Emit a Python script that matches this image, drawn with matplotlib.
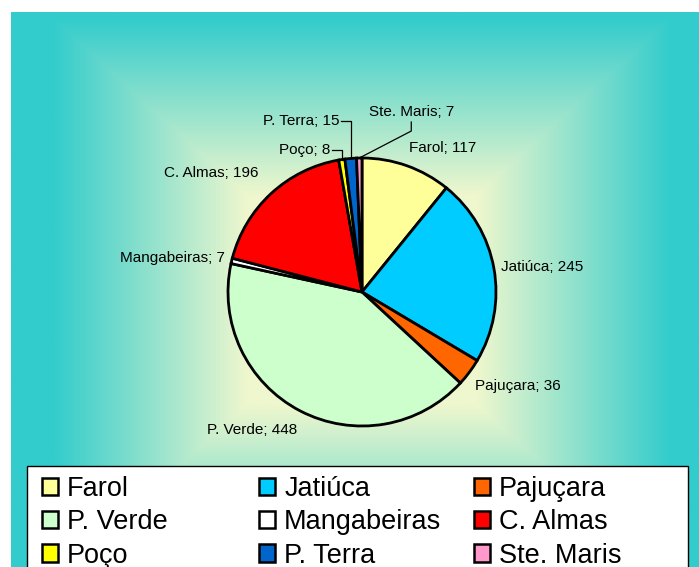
import numpy as np
import matplotlib
matplotlib.use("Agg")
import matplotlib.pyplot as plt
from matplotlib.patches import Patch, Rectangle

plt.rcParams['font.family'] = ['Liberation Sans', 'DejaVu Sans']

bairros = ['Farol', 'Jatiúca', 'Pajuçara', 'P. Verde', 'Mangabeiras',
           'C. Almas', 'Poço', 'P. Terra', 'Ste. Maris']
valores = [117, 245, 36, 448, 7, 196, 8, 15, 7]
cores = ['#ffff99', '#00ccff', '#ff6600', '#ccffcc', '#ffffff',
         '#ff0000', '#ffff00', '#0066cc', '#ff99cc']

W, H = 699, 567
fig = plt.figure(figsize=(W / 100, H / 100), dpi=100)
ax = fig.add_axes([0, 0, 1, 1])

# rectangular "from center" gradient background
x0, y0 = 11, 0
x1, y1 = W, H - 12
cx, cy = 362, H - 300
hw, hh = 351, 320
gx = np.linspace(x0, x1, 500)
gy = np.linspace(y0, y1, 500)
GX, GY = np.meshgrid(gx, gy)
t = np.maximum(np.abs(GX - cx) / hw, np.abs(GY - cy) / hh)
s = np.clip((t - 0.33) / 0.55, 0, 1)
c_in = np.array([238, 247, 206]) / 255
c_out = np.array([51, 204, 204]) / 255
img = c_in[None, None, :] * (1 - s[..., None]) + c_out[None, None, :] * s[..., None]
ax.imshow(img, extent=(x0, x1, y0, y1), origin='lower', zorder=0, aspect='auto')

# pie
pcx, pcy, r = 362, H - 292, 134
wedges, _ = ax.pie(valores, colors=cores, startangle=90, counterclock=False,
                   center=(pcx, pcy), radius=r, frame=True,
                   wedgeprops=dict(edgecolor='black', linewidth=2))
ax.set_xlim(0, W)
ax.set_ylim(0, H)
ax.axis('off')

# data labels: nudges for the big slices, leader lines for the small ones
nudge = {
    'Farol': (-3, 4), 'Jatiúca': (-7, -1), 'Pajuçara': (-6, -5),
    'P. Verde': (4, -6), 'Mangabeiras': (8, -1), 'C. Almas': (-3, 10),
}
small = {
    'Poço': [(0, 10), (-10, 0)],
    'P. Terra': [(0, 37), (-10, 0)],
    'Ste. Maris': [(52, 27), (0, 9)],
}
for w, nome, v in zip(wedges, bairros, valores):
    ang = np.deg2rad((w.theta1 + w.theta2) / 2)
    px = pcx + r * np.cos(ang)
    py = pcy + r * np.sin(ang)
    txt = f'{nome}; {v}'
    if nome in small:
        xs, ys = [px], [py]
        for dx, dy in small[nome]:
            xs.append(xs[-1] + dx)
            ys.append(ys[-1] + dy)
        ax.plot(xs, ys, color='black', lw=0.9, zorder=5)
        if nome == 'Ste. Maris':
            ax.text(xs[-1], ys[-1] + 3, txt, ha='center', va='bottom', fontsize=11)
        else:
            ax.text(xs[-1] - 1, ys[-1], txt, ha='right', va='center', fontsize=11)
    else:
        dx, dy = nudge[nome]
        lx = pcx + 1.11 * r * np.cos(ang) + dx
        ly = pcy + 1.11 * r * np.sin(ang) + dy
        ha = 'left' if np.cos(ang) > 0 else 'right'
        ax.text(lx, ly, txt, ha=ha, va='center', fontsize=11)

# legend: white box, three columns filled row by row
ax.add_patch(Rectangle((27, -20), 661, H - 466 + 20, facecolor='white',
                       edgecolor='black', linewidth=1, zorder=6))
col_x = [42, 259, 474]
for j in range(3):
    idx = [j, j + 3, j + 6]
    hs = [Patch(facecolor=cores[i], edgecolor='black', linewidth=1.8) for i in idx]
    lg = ax.legend(hs, [bairros[i] for i in idx], loc='upper left',
                   bbox_to_anchor=(col_x[j], H - 476), bbox_transform=ax.transData,
                   frameon=False, fontsize=19.5, handlelength=0.6,
                   handleheight=0.6, handletextpad=0.33, labelspacing=0.27,
                   borderpad=0, borderaxespad=0)
    lg.set_zorder(7)
    if j < 2:
        ax.add_artist(lg)

fig.savefig('out.png', dpi=100)
